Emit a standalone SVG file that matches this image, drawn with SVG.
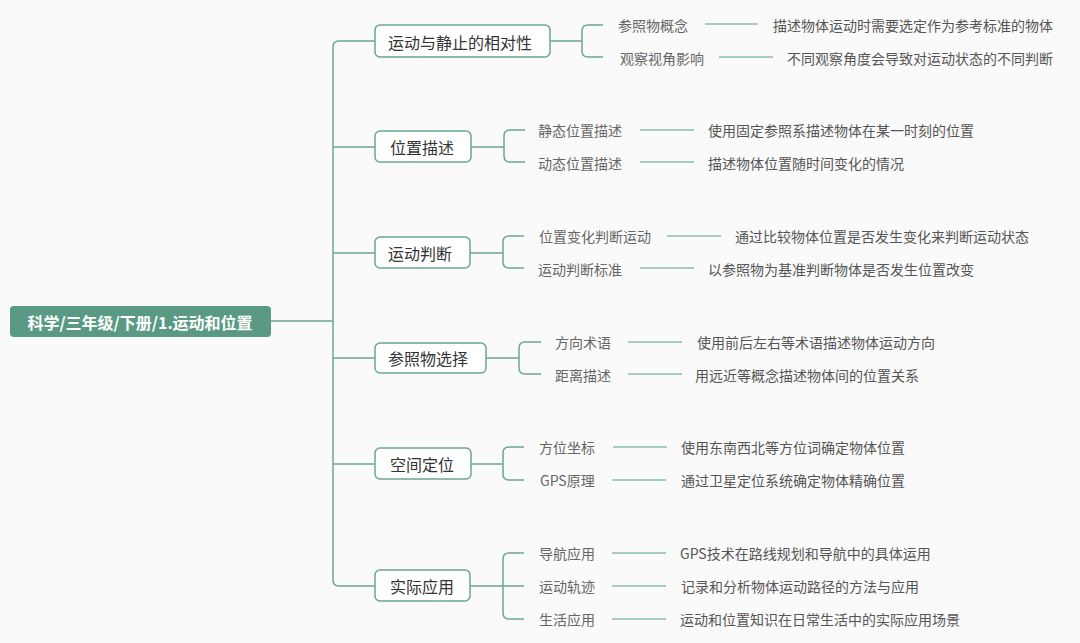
<svg xmlns="http://www.w3.org/2000/svg" width="1080" height="643" viewBox="0 0 1080 643">
<style>
.bg{fill:#fafafa}
.ln{fill:none;stroke:#6aa792;stroke-width:1.5}
.sl{fill:none;stroke:#86bfaa;stroke-width:1.3}
.n1{fill:#ffffff;stroke:#6aa792;stroke-width:1.5}
.t1{font-family:"Noto Sans CJK SC","Noto Sans",sans-serif;font-size:16px;fill:#333333;dominant-baseline:central}
.t2{font-family:"Noto Sans CJK SC","Noto Sans",sans-serif;font-size:14px;fill:#666666;dominant-baseline:central}
.t3{font-family:"Noto Sans CJK SC","Noto Sans",sans-serif;font-size:14px;fill:#555555;dominant-baseline:central}
.rt{font-family:"Noto Sans CJK SC","Noto Sans",sans-serif;font-size:16px;font-weight:bold;fill:#ffffff;dominant-baseline:central;text-anchor:middle}
</style>
<rect class="bg" x="0" y="0" width="1080" height="643"/>
<g id="connectors">
<path class="ln" d="M271,321 H333"/>
<path class="ln" d="M375,41 H339 Q333,41 333,47 V580 Q333,586 339,586 H375"/>
<path class="ln" d="M333,147 H375 M333,253 H375 M333,358 H375 M333,464 H375"/>
<path class="ln" d="M550,41 H582 M603,25 H588 Q582,25 582,31 V51 Q582,57 588,57 H603"/>
<path class="ln" d="M471,147 H504 M525,130 H510 Q504,130 504,136 V156 Q504,162 510,162 H525"/>
<path class="ln" d="M470,253 H503 M524,236 H509 Q503,236 503,242 V262 Q503,268 509,268 H524"/>
<path class="ln" d="M486,358 H519 M541,342 H525 Q519,342 519,348 V368 Q519,374 525,374 H541"/>
<path class="ln" d="M471,464 H503 M524,447 H509 Q503,447 503,453 V474 Q503,480 509,480 H524"/>
<path class="ln" d="M470,586 H503 M524,553 H509 Q503,553 503,559 V613 Q503,619 509,619 H524 M503,586 H524"/>
<path class="sl" d="M705,24 H758 M719,57 H773"/>
<path class="sl" d="M640,130 H694 M640,162 H694"/>
<path class="sl" d="M667,236 H721 M640,268 H694"/>
<path class="sl" d="M628,342 H682 M628,374 H682"/>
<path class="sl" d="M613,447 H667 M612,480 H666"/>
<path class="sl" d="M612,553 H666 M612,586 H666 M612,619 H666"/>
</g>
<g id="root">
<rect x="10" y="306" width="261" height="31" rx="4" fill="#5a9a85"/>
<text class="rt" x="140" y="322">科学/三年级/下册/1.运动和位置</text>
</g>
<g id="n1">
<rect class="n1" x="375" y="25" width="175" height="32" rx="5"/>
<text class="t1" x="388" y="42">运动与静止的相对性</text>
</g>
<g id="n1a"><text class="t2" x="618" y="25">参照物概念</text></g>
<g id="n1b"><text class="t2" x="620" y="58">观察视角影响</text></g>
<g id="n1a1"><text class="t3" x="773" y="25">描述物体运动时需要选定作为参考标准的物体</text></g>
<g id="n1b1"><text class="t3" x="787" y="58">不同观察角度会导致对运动状态的不同判断</text></g>
<g id="n2">
<rect class="n1" x="375" y="131" width="96" height="31" rx="5"/>
<text class="t1" x="390" y="147">位置描述</text>
</g>
<g id="n2a"><text class="t2" x="538" y="130">静态位置描述</text></g>
<g id="n2b"><text class="t2" x="538" y="163">动态位置描述</text></g>
<g id="n2a1"><text class="t3" x="708" y="130">使用固定参照系描述物体在某一时刻的位置</text></g>
<g id="n2b1"><text class="t3" x="708" y="163">描述物体位置随时间变化的情况</text></g>
<g id="n3">
<rect class="n1" x="375" y="237" width="95" height="31" rx="5"/>
<text class="t1" x="388" y="253">运动判断</text>
</g>
<g id="n3a"><text class="t2" x="539" y="236">位置变化判断运动</text></g>
<g id="n3b"><text class="t2" x="538" y="269">运动判断标准</text></g>
<g id="n3a1"><text class="t3" x="735" y="236">通过比较物体位置是否发生变化来判断运动状态</text></g>
<g id="n3b1"><text class="t3" x="708" y="269">以参照物为基准判断物体是否发生位置改变</text></g>
<g id="n4">
<rect class="n1" x="375" y="343" width="111" height="30" rx="5"/>
<text class="t1" x="388" y="358">参照物选择</text>
</g>
<g id="n4a"><text class="t2" x="555" y="342">方向术语</text></g>
<g id="n4b"><text class="t2" x="555" y="375">距离描述</text></g>
<g id="n4a1"><text class="t3" x="697" y="342">使用前后左右等术语描述物体运动方向</text></g>
<g id="n4b1"><text class="t3" x="695" y="375">用远近等概念描述物体间的位置关系</text></g>
<g id="n5">
<rect class="n1" x="375" y="448" width="96" height="31" rx="5"/>
<text class="t1" x="390" y="464">空间定位</text>
</g>
<g id="n5a"><text class="t2" x="539" y="447">方位坐标</text></g>
<g id="n5b"><text class="t2" x="540" y="480">GPS原理</text></g>
<g id="n5a1"><text class="t3" x="681" y="447">使用东南西北等方位词确定物体位置</text></g>
<g id="n5b1"><text class="t3" x="681" y="480">通过卫星定位系统确定物体精确位置</text></g>
<g id="n6">
<rect class="n1" x="375" y="570" width="95" height="31" rx="5"/>
<text class="t1" x="390" y="586">实际应用</text>
</g>
<g id="n6a"><text class="t2" x="539" y="553">导航应用</text></g>
<g id="n6b"><text class="t2" x="539" y="586">运动轨迹</text></g>
<g id="n6c"><text class="t2" x="539" y="619">生活应用</text></g>
<g id="n6a1"><text class="t3" x="680" y="553">GPS技术在路线规划和导航中的具体运用</text></g>
<g id="n6b1"><text class="t3" x="681" y="586">记录和分析物体运动路径的方法与应用</text></g>
<g id="n6c1"><text class="t3" x="680" y="619">运动和位置知识在日常生活中的实际应用场景</text></g>
</svg>
